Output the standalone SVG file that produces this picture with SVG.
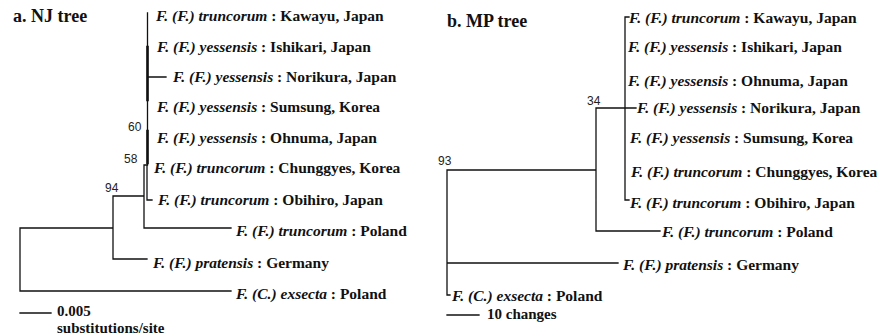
<svg xmlns="http://www.w3.org/2000/svg" width="877" height="335" viewBox="0 0 877 335">
<style>
.lbl{font-family:"Liberation Serif","Times New Roman",serif;font-size:15.5px;font-weight:bold;fill:#111}
.sc{font-size:15px}
.sp{font-style:italic}
.ttl{font-family:"Liberation Serif","Times New Roman",serif;font-size:18px;font-weight:bold;fill:#111}
.bs{font-family:"Liberation Sans",Arial,sans-serif;font-size:12px;fill:#222}
.br{stroke:#111;stroke-width:1.3;fill:none;stroke-linecap:square}
.thick{stroke-width:2.6}
</style>
<rect width="877" height="335" fill="#fff"/>

<!-- titles -->
<g id="titles">
<text class="ttl" x="13" y="22">a. NJ tree</text>
<text class="ttl" x="447" y="27">b. MP tree</text>
</g>

<!-- connectors -->
<g id="connectors">
<!-- NJ tree -->
<path class="br" d="M147.5,13 V165 M144,165 H147.5 M144,165 V228 M147,165 V200 H152 M148,77 H166 M144,228 H231 M113,196 H144 M113,196 V259 H147 M20,228 H113 M20,228 V291 H231"/>
<path class="br thick" d="M147.5,47 V100 M147.5,131 V163"/>
<!-- MP tree -->
<path class="br" d="M629,17 H625 V200 H629 M596,108 H636 M596,108 V231 H660 M447,170 H596 M447,170 V295 H450 M447,263 H618"/>
</g>

<!-- support values -->
<g id="support">
<text class="bs" x="128" y="130.5">60</text>
<text class="bs" x="124" y="162.5">58</text>
<text class="bs" x="105" y="191.5">94</text>
<text class="bs" x="438" y="164.5">93</text>
<text class="bs" x="587" y="104.5">34</text>
</g>

<!-- NJ leaves -->
<g id="nj-kawayu"><text class="lbl" x="156" y="21"><tspan class="sp">F. (F.) truncorum</tspan> : Kawayu, Japan</text></g>
<g id="nj-ishikari"><text class="lbl" x="157" y="52"><tspan class="sp">F. (F.) yessensis</tspan> : Ishikari, Japan</text></g>
<g id="nj-norikura"><text class="lbl" x="173" y="82"><tspan class="sp">F. (F.) yessensis</tspan> : Norikura, Japan</text></g>
<g id="nj-sumsung"><text class="lbl" x="157" y="112"><tspan class="sp">F. (F.) yessensis</tspan> : Sumsung, Korea</text></g>
<g id="nj-ohnuma"><text class="lbl" x="157" y="143"><tspan class="sp">F. (F.) yessensis</tspan> : Ohnuma, Japan</text></g>
<g id="nj-chunggyes"><text class="lbl" x="154" y="173"><tspan class="sp">F. (F.) truncorum</tspan> : Chunggyes, Korea</text></g>
<g id="nj-obihiro"><text class="lbl" x="158" y="205"><tspan class="sp">F. (F.) truncorum</tspan> : Obihiro, Japan</text></g>
<g id="nj-poland"><text class="lbl" x="236" y="236"><tspan class="sp">F. (F.) truncorum</tspan> : Poland</text></g>
<g id="nj-pratensis"><text class="lbl" x="153" y="268"><tspan class="sp">F. (F.) pratensis</tspan> : Germany</text></g>
<g id="nj-exsecta"><text class="lbl" x="236" y="299"><tspan class="sp">F. (C.) exsecta</tspan> : Poland</text></g>

<!-- MP leaves -->
<g id="mp-kawayu"><text class="lbl" x="629" y="23"><tspan class="sp">F. (F.) truncorum</tspan> : Kawayu, Japan</text></g>
<g id="mp-ishikari"><text class="lbl" x="628" y="52"><tspan class="sp">F. (F.) yessensis</tspan> : Ishikari, Japan</text></g>
<g id="mp-ohnuma"><text class="lbl" x="628" y="86"><tspan class="sp">F. (F.) yessensis</tspan> : Ohnuma, Japan</text></g>
<g id="mp-norikura"><text class="lbl" x="637" y="113"><tspan class="sp">F. (F.) yessensis</tspan> : Norikura, Japan</text></g>
<g id="mp-sumsung"><text class="lbl" x="630" y="143"><tspan class="sp">F. (F.) yessensis</tspan> : Sumsung, Korea</text></g>
<g id="mp-chunggyes"><text class="lbl" x="631" y="177"><tspan class="sp">F. (F.) truncorum</tspan> : Chunggyes, Korea</text></g>
<g id="mp-obihiro"><text class="lbl" x="630" y="208"><tspan class="sp">F. (F.) truncorum</tspan> : Obihiro, Japan</text></g>
<g id="mp-poland"><text class="lbl" x="662" y="237"><tspan class="sp">F. (F.) truncorum</tspan> : Poland</text></g>
<g id="mp-pratensis"><text class="lbl" x="623" y="270"><tspan class="sp">F. (F.) pratensis</tspan> : Germany</text></g>
<g id="mp-exsecta"><text class="lbl" x="452" y="301"><tspan class="sp">F. (C.) exsecta</tspan> : Poland</text></g>

<!-- scale bars -->
<g id="scale-nj">
<path class="br" d="M20,313 H51"/>
<text class="lbl sc" x="57" y="316">0.005</text>
<text class="lbl sc" x="57" y="333">substitutions/site</text>
</g>
<g id="scale-mp">
<path class="br" d="M447,315 H479"/>
<text class="lbl sc" x="487" y="319">10 changes</text>
</g>
</svg>
